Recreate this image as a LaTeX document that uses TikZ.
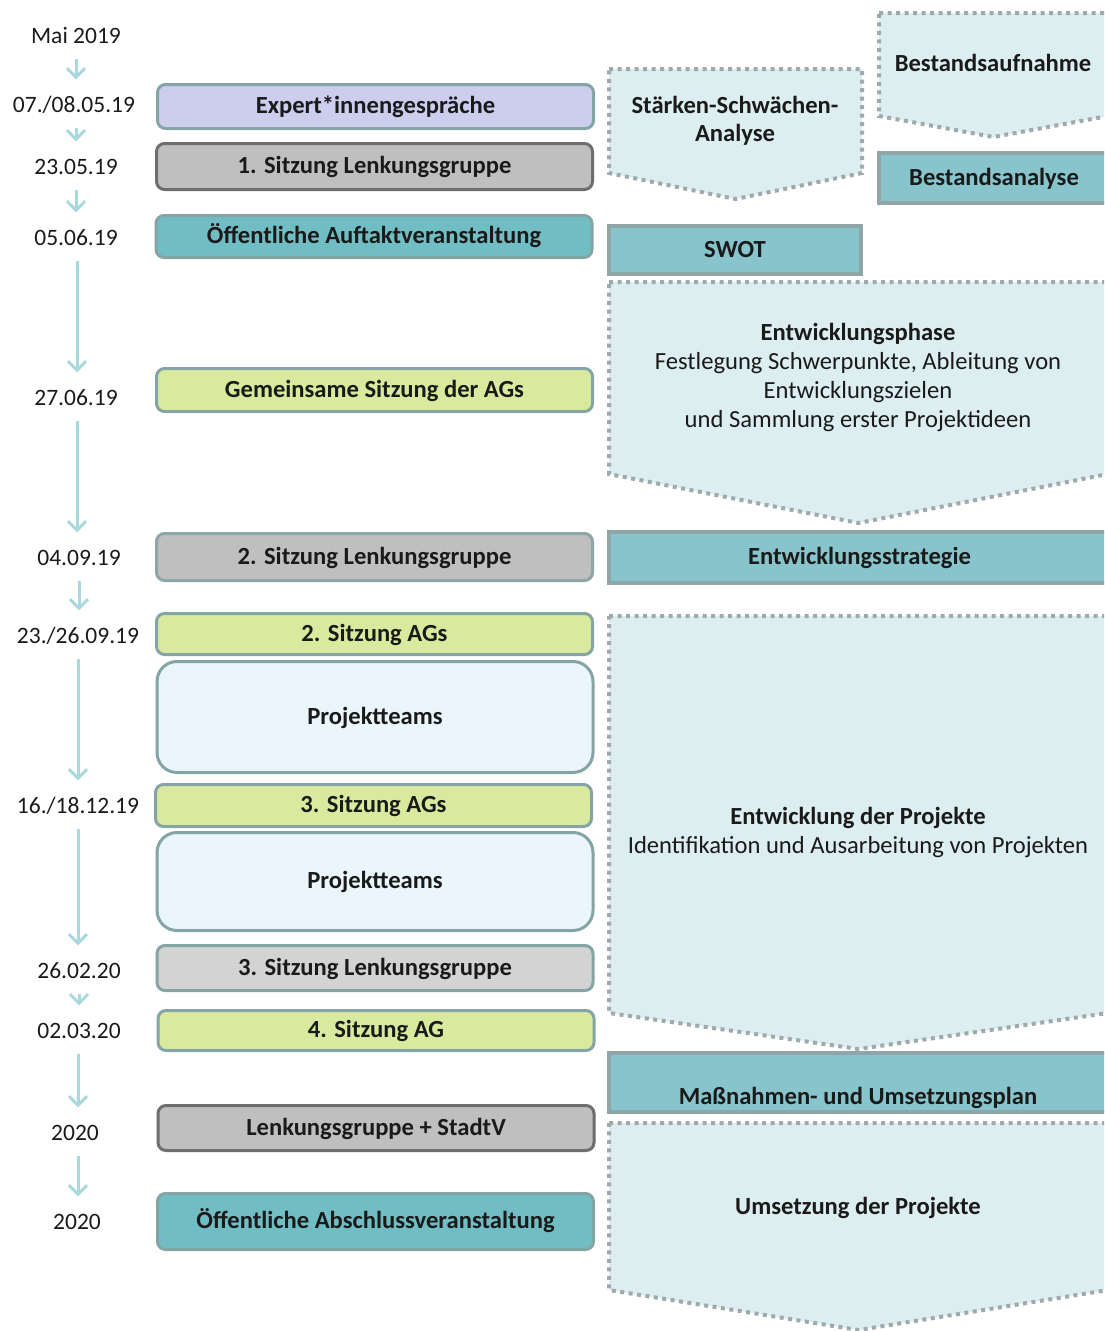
\documentclass[tikz,border=0pt]{standalone}
\usepackage{fontspec}
\setmainfont{Carlito}
\usetikzlibrary{arrows.meta}
\definecolor{arrc}{HTML}{A9D9DD}
\definecolor{lav}{HTML}{CDCDEE}
\definecolor{grayf}{HTML}{BFBFBF}
\definecolor{lgrayf}{HTML}{D3D3D3}
\definecolor{darkb}{HTML}{6E6E6E}
\definecolor{tealb}{HTML}{85A4A6}
\definecolor{tealf}{HTML}{70BEC4}
\definecolor{greenf}{HTML}{D9EA9E}
\definecolor{ptf}{HTML}{EAF6FC}
\definecolor{rboxf}{HTML}{88C4CB}
\definecolor{rboxb}{HTML}{8FA5A7}
\definecolor{chevf}{HTML}{DDEEF0}
\definecolor{chevb}{HTML}{9FAAAC}
\definecolor{txt}{HTML}{1A1A1A}
\newcommand\chevron[5]{%
  \path[chev] (#1,#3) -- (#2,#3) -- (#2,#4) -- ({(#1+#2)/2},#5) -- (#1,#4) -- cycle;}
\newcommand\bigf{\fontsize{24.6}{29}\selectfont}
\begin{document}
\begin{tikzpicture}[x=1pt,y=-1pt,
  font=\bigf, text=txt,
  date/.style={inner sep=0pt, text height=15pt, text depth=0pt, font=\fontsize{23.5}{28}\selectfont},
  darr/.style={draw=arrc, line width=3pt, shorten <=15pt, shorten >=18pt,
    -{Straight Barb[length=9pt,width=18pt]}},
  lbox/.style={draw=tealb, line width=3pt, rounded corners=8pt,
    minimum width=436pt, inner sep=0pt, text height=16pt, text depth=2pt,
    font=\bigf\bfseries},
  rbox/.style={draw=rboxb, fill=rboxf, line width=4pt, inner sep=0pt,
    text height=16pt, text depth=2pt, font=\bigf\bfseries},
  chev/.style={fill=chevf, draw=chevb, line width=4pt, dash pattern=on 4pt off 4.5pt},
]
\useasboundingbox (0,0) rectangle (1104,1331);
\clip (0,0) rectangle (1104,1331);

% ---------- dates ----------
\node[date] (d1) at (76,36) {Mai 2019};
\node[date] (d2) at (74,105) {07./08.05.19};
\node[date] (d3) at (76,167) {23.05.19};
\node[date] (d4) at (76,238) {05.06.19};
\node[date] (d5) at (76,398) {27.06.19};
\node[date] (d6) at (79,558) {04.09.19};
\node[date] (d7) at (78,636) {23./26.09.19};
\node[date] (d8) at (78,806) {16./18.12.19};
\node[date] (d9) at (79,971) {26.02.20};
\node[date] (d10) at (79,1031) {02.03.20};
\node[date] (d11) at (75,1133) {2020};
\node[date] (d12) at (77,1222) {2020};

\foreach \a/\b/\x in {d1/d2/76,d2/d3/76,d3/d4/76,d4/d5/77,d5/d6/77,d6/d7/79,d7/d8/78,d8/d9/78,d9/d10/79,d10/d11/78,d11/d12/78}
  \draw[darr] (\a.south -| \x,0) -- (\b.north -| \x,0);

% ---------- left boxes ----------
\node[lbox, fill=lav, minimum height=44pt] (e1) at (375.5,106.5) {Expert*innengespräche};
\node[lbox, fill=grayf, draw=darkb, minimum height=46pt] (l1) at (374.5,166.5) {1. Sitzung Lenkungsgruppe};
\node[lbox, fill=tealf, minimum height=42pt] (auf) at (374,236.5) {Öffentliche Auftaktveranstaltung};
\node[lbox, fill=greenf, minimum height=43pt] (gem) at (374.5,390) {Gemeinsame Sitzung der AGs};
\node[lbox, fill=grayf, draw=rboxb, minimum height=47pt] (l2) at (374.5,557) {2. Sitzung Lenkungsgruppe};
\node[lbox, fill=greenf, minimum height=41pt] (ag2) at (374.5,634) {2. Sitzung AGs};
\node[lbox, fill=ptf, minimum height=111pt, rounded corners=20pt] (pt1) at (375,717) {Projektteams};
\node[lbox, fill=greenf, minimum height=42pt] (ag3) at (373.5,805.5) {3. Sitzung AGs};
\node[lbox, fill=ptf, minimum height=98pt, rounded corners=20pt] (pt2) at (375,881.5) {Projektteams};
\node[lbox, fill=lgrayf, minimum height=45pt] (l3) at (375,968) {3. Sitzung Lenkungsgruppe};
\node[lbox, fill=greenf, minimum height=40pt] (ag4) at (376,1030.5) {4. Sitzung AG};
\node[lbox, fill=grayf, draw=darkb, minimum height=45pt] (lst) at (376,1128) {Lenkungsgruppe + StadtV};
\node[lbox, fill=tealf, minimum height=56pt] (ab) at (375.5,1221.5) {Öffentliche Abschlussveranstaltung};

% ---------- right column ----------
\chevron{879}{1108}{13}{116}{137}
\node[font=\bigf\bfseries] (ba) at (993,63) {Bestandsaufnahme};

\chevron{609}{862}{69}{173}{199}
\node[font=\fontsize{24.6}{28}\selectfont\bfseries, align=center] (ssa) at (735,121) {Stärken-Schwächen-\\Analyse};

\node[rbox, minimum width=230pt, minimum height=50pt] (ban) at (994,178) {Bestandsanalyse};
\node[rbox, minimum width=252pt, minimum height=48pt] (swot) at (735,250) {SWOT};

\chevron{609}{1108}{282}{474}{523}
\node[align=center] (ep) at (858,377) {\textbf{Entwicklungsphase}\\Festlegung Schwerpunkte, Ableitung von\\Entwicklungszielen\\und Sammlung erster Projektideen};

\node[rbox, minimum width=501pt, minimum height=51pt] (es) at (859.5,557.5) {Entwicklungsstrategie};

\chevron{609}{1108}{616}{1013}{1049}
\node[align=center] (edp) at (858,832) {\textbf{Entwicklung der Projekte}\\Identifikation und Ausarbeitung von Projekten};

\node[rbox, minimum width=501pt, minimum height=59pt] (mup) at (859.5,1082.5) {};
\node[font=\bigf\bfseries, text height=16pt, text depth=2pt, inner sep=0pt] (muptext) at (858,1097) {Maßnahmen- und Umsetzungsplan};

\chevron{609}{1108}{1123}{1290}{1330}
\node[font=\bigf\bfseries] (udp) at (858,1208) {Umsetzung der Projekte};
\end{tikzpicture}
\end{document}
